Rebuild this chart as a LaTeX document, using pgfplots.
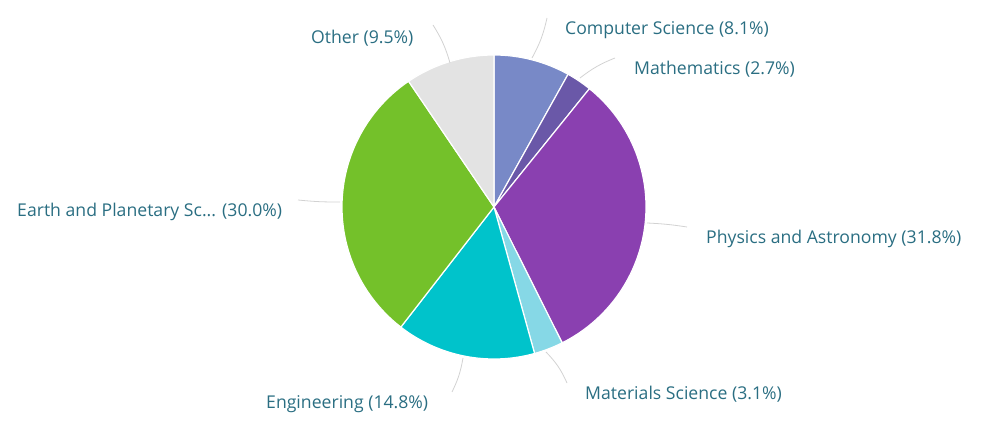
\documentclass[border=0pt]{standalone}
\usepackage{pgfplots}
\pgfplotsset{compat=1.18}
\usepackage{pgfplotstable}
\usepackage{fontspec}
\setmainfont{Open Sans}
\definecolor{cs}{HTML}{7889C7}
\definecolor{ma}{HTML}{6A58A8}
\definecolor{ph}{HTML}{8A40B0}
\definecolor{mt}{HTML}{86D8E6}
\definecolor{en}{HTML}{00C3CB}
\definecolor{ea}{HTML}{74C12A}
\definecolor{ot}{HTML}{E3E3E3}
\definecolor{txt}{HTML}{2A6E82}
\definecolor{lead}{HTML}{D2D2D2}
\pgfplotstableread{
value color
8.1 cs
2.7 ma
31.8 ph
3.1 mt
14.8 en
30.0 ea
9.5 ot
}\piedata
\begin{document}
\begin{tikzpicture}
\begin{axis}[width=985bp,height=428bp,scale only axis,
  xmin=0,xmax=985,ymin=0,ymax=428,hide axis,clip=false]
\path (axis cs:0,0) rectangle (axis cs:985,428);
\def\startang{90}
\pgfplotsforeachungrouped \i in {0,...,6}{
  \pgfplotstablegetelem{\i}{value}\of\piedata \let\v\pgfplotsretval
  \pgfplotstablegetelem{\i}{color}\of\piedata \let\c\pgfplotsretval
  \pgfmathsetmacro\endang{\startang-3.6*\v}
  \edef\temp{\noexpand\fill[\c, draw=white, line width=1.2pt, line join=round] (axis cs:494,221) -- ++(\startang:152bp) arc[start angle=\startang, end angle=\endang, radius=152bp] -- cycle;}
  \temp
  \global\let\startang\endang
}
% leader lines
\draw[lead, line width=0.8pt] (axis cs:532,370) to[bend right=8] (axis cs:547,410);
\draw[lead, line width=0.8pt] (axis cs:580,350) to[bend left=8] (axis cs:615,370);
\draw[lead, line width=0.8pt] (axis cs:647,205) to[bend left=3] (axis cs:687,201);
\draw[lead, line width=0.8pt] (axis cs:546,76) to[bend left=10] (axis cs:567,45);
\draw[lead, line width=0.8pt] (axis cs:463,70) to[bend left=8] (axis cs:452,36);
\draw[lead, line width=0.8pt] (axis cs:298,228) to[bend right=3] (axis cs:340,226);
\draw[lead, line width=0.8pt] (axis cs:433,403) to[bend left=8] (axis cs:450,365);
% labels
\begin{scope}[every node/.style={text=txt, font=\fontsize{17.7}{21}\selectfont, anchor=west, inner sep=0pt}]
\node at (axis cs:565,398) {Computer Science (8.1\%)};
\node at (axis cs:634,359) {Mathematics (2.7\%)};
\node at (axis cs:706,189) {Physics and Astronomy (31.8\%)};
\node at (axis cs:585,34) {Materials Science (3.1\%)};
\node at (axis cs:266,24) {Engineering (14.8\%)};
\node at (axis cs:17,216) {Earth and Planetary Sc... (30.0\%)};
\node at (axis cs:311,390) {Other (9.5\%)};
\end{scope}
\end{axis}
\end{tikzpicture}
\end{document}
